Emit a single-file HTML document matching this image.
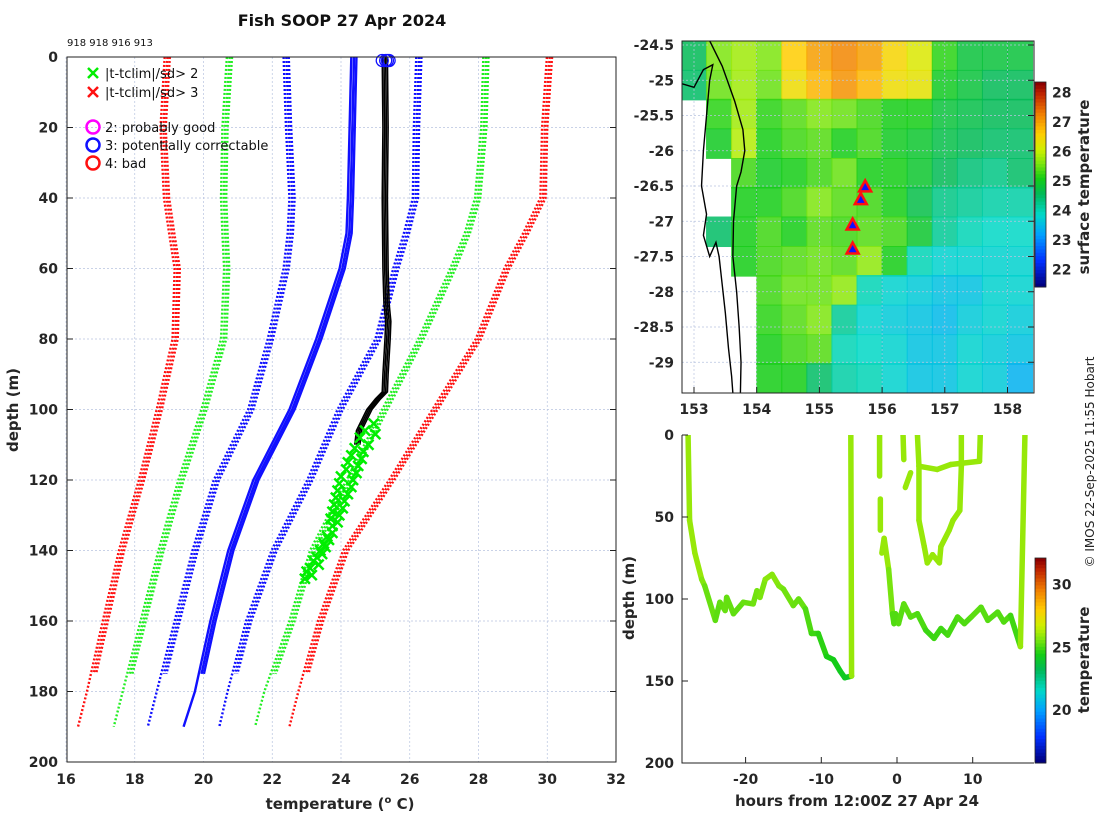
<!DOCTYPE html>
<html><head><meta charset="utf-8">
<style>
html,body{margin:0;padding:0;background:#fff;}
svg{display:block;font-family:"DejaVu Sans","Liberation Sans",sans-serif;}
.tk{font-weight:bold;font-size:14px;fill:#262626;}
.lb{font-weight:bold;font-size:15px;fill:#262626;}
</style></head>
<body>
<svg id="fig" width="1100" height="820" viewBox="0 0 1100 820" xmlns="http://www.w3.org/2000/svg">
<defs>
<clipPath id="clipL"><rect x="67" y="57" width="549" height="705"/></clipPath>
<clipPath id="clipM"><rect x="682" y="41" width="352" height="352"/></clipPath>
<clipPath id="clipB"><rect x="682" y="435" width="352" height="328"/></clipPath>
</defs>
<text x="342" y="26" text-anchor="middle" font-weight="bold" font-size="16" fill="#111">Fish SOOP 27 Apr 2024</text>
<text x="67" y="46" font-size="10" fill="#111">918 918 916 913</text>
<g id="left"></g>
<g id="map"></g>
<g id="bot"></g>
<text transform="translate(1094,462) rotate(-90)" text-anchor="middle" font-size="12" fill="#222">© IMOS 22-Sep-2025 11:55 Hobart</text>
</svg>
<script>
// ---------- data: left profile plot ----------
const climDepths = [0,20,40,50,60,80,100,120,140,160,180,190];
const climMean   = [24.30,24.25,24.2,24.16,23.96,23.28,22.50,21.45,20.72,20.20,19.75,19.42];
const climMinus1 = [22.33,22.40,22.50,22.45,22.33,21.87,21.30,20.30,19.68,19.16,18.64,18.38];
const climPlus1  = [26.19,26.12,26.09,25.83,25.52,25.00,23.90,23.02,21.98,21.24,20.70,20.46];
const climMinus2 = [20.68,20.55,20.51,20.55,20.60,20.51,19.94,19.27,18.69,18.17,17.65,17.39];
const climPlus2  = [28.14,28.08,27.90,27.60,27.18,26.25,25.20,24.16,23.10,22.50,21.77,21.50];
const climMinus3 = [18.87,18.75,18.85,19.00,19.16,19.10,18.64,18.12,17.54,17.07,16.61,16.35];
const climPlus3  = [29.99,29.85,29.80,29.30,28.75,27.92,26.66,25.40,24.06,23.33,22.76,22.50];
const obsDepth = [0,20,40,60,70,75,80,85,90,95,97,100,103,106,110];
const obsTemp  = [25.20,25.22,25.20,25.22,25.25,25.30,25.28,25.25,25.22,25.20,25.00,24.75,24.60,24.45,24.40];
const flagDepth = [104,106,107,108,110,111,112,113,114,115,116,117,118,119,120,121,122,123,124,125,126,127,128,129,130,131,132,133,135,136,137,138,139,140,141,142,143,144,145,146,147,148];
const flagTemp  = [24.95,24.7,25.0,24.55,24.8,24.4,24.65,24.3,24.6,24.2,24.5,24.15,24.45,24.0,24.35,23.95,24.3,23.9,24.2,23.85,24.1,23.8,24.05,23.75,23.95,23.7,23.9,23.75,23.75,23.6,23.65,23.5,23.55,23.4,23.45,23.3,23.2,23.35,23.1,23.0,23.15,22.95];
const surfQcTemp = [25.2,25.3,25.35,25.4];
const xTicks = [16,18,20,22,24,26,28,30,32];
const yTicks = [0,20,40,60,80,100,120,140,160,180,200];
// ---------- data: SST map ----------
const mapLons = [153.0,153.4,153.8,154.2,154.6,155.0,155.4,155.8,156.2,156.6,157.0,157.4,157.8,158.2];
const mapLats = [-24.65,-25.07,-25.48,-25.90,-26.32,-26.73,-27.15,-27.57,-27.98,-28.40,-28.82,-29.23];
const sst = [
 [24.6,25.6,25.8,25.6,26.6,27.0,27.2,27.0,26.5,26.2,25.2,24.8,24.8,24.8],
 [24.5,25.5,25.8,25.5,26.4,26.8,27.1,26.8,26.4,26.3,25.0,24.8,24.6,24.6],
 [null,25.2,25.8,25.2,25.4,25.6,25.5,25.3,25.1,25.1,24.8,24.7,24.6,24.6],
 [null,25.0,25.9,25.1,25.3,25.4,25.1,25.3,25.0,24.9,24.7,24.6,24.5,24.5],
 [null,null,25.3,25.0,25.1,25.3,25.5,25.1,25.1,24.9,24.6,24.4,24.3,24.5],
 [null,null,25.1,25.1,25.3,25.6,25.4,25.3,25.1,24.7,24.3,24.2,24.1,24.1],
 [null,24.5,25.1,25.3,25.1,25.4,25.3,25.4,25.3,24.9,24.2,24.0,23.9,23.9],
 [null,null,25.1,25.3,25.4,25.5,25.4,25.7,25.1,24.0,23.8,23.8,23.8,23.8],
 [null,null,null,25.3,25.5,25.5,25.7,24.0,23.8,23.7,23.6,23.6,23.8,23.8],
 [null,null,null,25.2,25.4,25.6,24.2,23.8,23.7,23.6,23.5,23.7,23.8,23.7],
 [null,null,null,25.1,25.3,25.4,24.0,23.9,23.8,23.6,23.6,23.8,23.7,23.6],
 [null,null,null,25.1,25.1,24.5,24.1,24.0,23.8,23.6,23.6,23.8,23.7,23.4]];
const shelfLon = [153.25,153.45,153.65,153.78,153.81,153.75,153.68,153.63,153.62,153.68,153.72,153.75,153.74];
const shelfLat = [-24.44,-24.8,-25.3,-25.7,-26.0,-26.3,-26.5,-27.0,-27.5,-28.0,-28.5,-29.0,-29.44];
const coastLon = [152.81,153.0,153.15,153.3,153.25,153.2,153.15,153.12,153.2,153.15,153.25,153.35,153.4,153.45,153.5,153.55,153.6,153.62];
const coastLat = [-25.05,-25.1,-24.85,-24.78,-25.0,-25.5,-26.0,-26.5,-26.9,-27.2,-27.5,-27.3,-27.5,-27.9,-28.3,-28.8,-29.2,-29.44];
const shipLon = [155.73,155.66,155.53,155.53];
const shipLat = [-26.52,-26.70,-27.06,-27.40];
const mapXTicks = [153,154,155,156,157,158];
const mapYTicks = [-24.5,-25,-25.5,-26,-26.5,-27,-27.5,-28,-28.5,-29];
const sstCbTicks = [22,23,24,25,26,27,28];
// ---------- data: time-depth traces ----------
const trHours = [
 [-27.6,-27.4,-26.7,-25.8,-25.4,-24.0,-23.4,-22.7,-22.5,-21.6,-20.3,-19.0,-18.5,-18.1,-17.4,-16.5,-15.6,-15.0,-13.7,-13.0,-12.1,-11.3,-10.4,-9.3,-8.4,-7.5,-6.9,-6.0,-6.1],
 [-2.0,-1.7,-1.1,-0.6,-0.4,-0.2,0.2,0.9,1.8,2.7,3.8,4.9,5.8,6.7,8.0,8.9,9.8,11.1,12.0,13.3,14.1,15.0,16.3,16.9],
 [2.7,2.9,2.9,3.6,4.0,4.7,5.6,5.8,6.9,7.4,8.3,8.5,8.5],
 [2.9,5.3,7.1,10.9,11.0],
 [0.8,0.9],[1.8,1.1],[-2.3,-2.3],[-2.2,-2.2]];
const trDepths = [
 [0,52,72,88,92,113,102,107,99,109,102,103,95,99,88,85,92,94,104,100,106,121,121,135,137,144,148,147,0],
 [72,63,82,109,115,109,115,103,111,109,119,124,118,122,111,115,111,105,113,108,114,110,129,0],
 [0,19,52,68,78,73,78,68,58,52,46,19,0],
 [19,21,18,16,0],
 [0,15],[23,32],[0,25],[39,58]];
const bXTicks = [-20,-10,0,10];
const bYTicks = [0,50,100,150,200];
const tCbTicks = [20,25,30];

// ---------- helpers ----------
const NS='http://www.w3.org/2000/svg';
function mk(tag, attrs, parent){const e=document.createElementNS(NS,tag);for(const k in attrs)e.setAttribute(k,attrs[k]);parent.appendChild(e);return e;}
const stops=[[0,[0,0,128]],[0.12,[0,48,255]],[0.25,[0,160,255]],[0.35,[0,216,200]],[0.45,[0,185,90]],[0.53,[20,205,20]],[0.6,[120,228,15]],[0.67,[205,240,0]],[0.75,[255,205,0]],[0.85,[240,125,0]],[0.95,[190,35,0]],[1,[140,0,0]]];
function cmap(t){t=Math.max(0,Math.min(1,t));for(let i=1;i<stops.length;i++){if(t<=stops[i][0]){const a=stops[i-1],b=stops[i],f=(t-a[0])/(b[0]-a[0]);const c=a[1].map((v,j)=>Math.round(v+(b[1][j]-v)*f));return 'rgb('+c.join(',')+')';}}return 'rgb(140,0,0)';}

// ---------- left plot ----------
const L=document.getElementById('left');
const lx=T=>66+(T-16)*34.375, ly=d=>57+d*3.525;
xTicks.forEach(t=>{const g=mk('line',{x1:lx(t),x2:lx(t),y1:57,y2:762,stroke:'#b8c4e0','stroke-width':0.7,'stroke-dasharray':'2,2'},L);


const tx=mk('text',{x:lx(t),y:784,'text-anchor':'middle',class:'tk'},L);tx.textContent=t;

});
yTicks.forEach(t=>{const g=mk('line',{x1:67,x2:616,y1:ly(t),y2:ly(t),stroke:'#b8c4e0','stroke-width':0.7,'stroke-dasharray':'2,2'},L);


mk('line',{x1:67,x2:73,y1:ly(t),y2:ly(t),stroke:'#222'},L);mk('line',{x1:610,x2:616,y1:ly(t),y2:ly(t),stroke:'#222'},L);
const tx=mk('text',{x:58,y:ly(t)+5,'text-anchor':'end',class:'tk'},L);tx.textContent=t;

});
const LP=mk('g',{'clip-path':'url(#clipL)'},L);
function profPts(temps,off,maxD){const p=[];for(let i=0;i<climDepths.length;i++){const d=climDepths[i];if(d<=maxD)p.push([lx(temps[i]+off),ly(d)]);else{const d0=climDepths[i-1],f=(maxD-d0)/(d-d0);p.push([lx(temps[i-1]+(temps[i]-temps[i-1])*f+off),ly(maxD)]);break;}}return p.map(q=>q.join(',')).join(' ');}
const groups=[[climMinus3,'#ff1010',true],[climPlus3,'#ff1010',true],[climMinus2,'#22ee22',true],[climPlus2,'#22ee22',true],[climMinus1,'#1010ff',true],[climPlus1,'#1010ff',true],[climMean,'#1010ff',false]];
const copies=[[0,190],[0.08,175],[0.15,175]];
groups.forEach(g=>{copies.forEach(c=>{const e=mk('polyline',{points:profPts(g[0],c[0],c[1]),fill:'none',stroke:g[1],'stroke-width':2.4,'stroke-dasharray':g[2]?'2,2':'none'},LP);

});});
[0,0.05,0.1,0.15].forEach(o=>{const e=mk('polyline',{points:obsDepth.map((d,i)=>lx(obsTemp[i]+o)+','+ly(d)).join(' '),fill:'none',stroke:'#000','stroke-width':1.6},LP);

});
flagDepth.forEach((d,i)=>{const x=lx(flagTemp[i]),y=ly(d),s=5;const e=mk('path',{d:`M${x-s},${y-s}L${x+s},${y+s}M${x-s},${y+s}L${x+s},${y-s}`,stroke:'#00ee00','stroke-width':2.5},LP);

});
surfQcTemp.forEach(t=>{const e=mk('circle',{cx:lx(t),cy:ly(1),r:6,fill:'none',stroke:'#1010ff','stroke-width':1.3},L);

});
{const e=mk('rect',{x:67,y:57,width:549,height:705,fill:'none',stroke:'#222','stroke-width':1},L);

}
// legend
const lg=mk('g',{},L);


[['x','#00ee00',73,'|t-tclim|/sd> 2'],['x','#ff1010',92,'|t-tclim|/sd> 3'],['o','#ff00ff',127,'2: probably good'],['o','#1010ff',145,'3: potentially correctable'],['o','#ff1010',163,'4: bad']].forEach(r=>{
const x=93,y=r[2];if(r[0]==='x')mk('path',{d:`M${x-5},${y-5}L${x+5},${y+5}M${x-5},${y+5}L${x+5},${y-5}`,stroke:r[1],'stroke-width':2.5},lg);else mk('circle',{cx:x,cy:y,r:6.5,fill:'none',stroke:r[1],'stroke-width':2.5},lg);
const t=mk('text',{x:105,y:y+5,'font-size':13,fill:'#111'},lg);t.textContent=r[3];

});
{const t=mk('text',{transform:'translate(18,410) rotate(-90)','text-anchor':'middle',class:'lb'},L);t.textContent='depth (m)';


const t2=mk('text',{x:340,y:809,'text-anchor':'middle',class:'lb'},L);t2.innerHTML='temperature (<tspan font-size="10" dy="-6">o</tspan><tspan dy="6"> C)</tspan>';

}

// ---------- map ----------
const M=document.getElementById('map');
const mx=lon=>694+(lon-153)*62.7, my=lat=>45+(-24.5-lat)*70.5;
const MP=mk('g',{'clip-path':'url(#clipM)'},M);
sst.forEach((row,r)=>row.forEach((v,c)=>{if(v===null)return;const e=mk('rect',{x:mx(mapLons[c]-0.2)-0.5,y:my(mapLats[r]+0.21)-0.5,width:26.1,height:30.5,fill:cmap((v-21.5)/6.8),opacity:0.85},MP);

}));
mapXTicks.forEach(t=>{const e=mk('line',{x1:mx(t),x2:mx(t),y1:41,y2:393,stroke:'#b8c4e0','stroke-width':0.7,'stroke-dasharray':'2,2'},MP);


mk('line',{x1:mx(t),x2:mx(t),y1:393,y2:387,stroke:'#222'},M);
const tx=mk('text',{x:mx(t),y:414,'text-anchor':'middle',class:'tk'},M);tx.textContent=t;

});
mapYTicks.forEach(t=>{const e=mk('line',{x1:682,x2:1034,y1:my(t),y2:my(t),stroke:'#b8c4e0','stroke-width':0.7,'stroke-dasharray':'2,2'},MP);


mk('line',{x1:1034,x2:1028,y1:my(t),y2:my(t),stroke:'#222'},M);
const tx=mk('text',{x:674,y:my(t)+5,'text-anchor':'end',class:'tk'},M);tx.textContent=t;

});
{const e=mk('polyline',{points:shelfLon.map((l,i)=>mx(l)+','+my(shelfLat[i])).join(' '),fill:'none',stroke:'#000','stroke-width':1.4},MP);


const c=mk('polyline',{points:coastLon.map((l,i)=>mx(l)+','+my(coastLat[i])).join(' '),fill:'none',stroke:'#000','stroke-width':1.4},MP);

}
shipLon.forEach((l,i)=>{const x=mx(l),y=my(shipLat[i]);const e=mk('path',{d:`M${x},${y-7}L${x+6},${y+4}L${x-6},${y+4}Z`,fill:'#1010ff',stroke:'#ff1010','stroke-width':2.5},MP);

});
{const e=mk('rect',{x:682,y:41,width:352,height:352,fill:'none',stroke:'#222'},M);

}
// sst colorbar
const cbTop=82,cbBot=287,cbMin=21.4,cbMax=28.35;
for(let i=0;i<60;i++){const e=mk('rect',{x:1035,y:cbTop+(cbBot-cbTop)*i/60,width:11,height:(cbBot-cbTop)/60+0.5,fill:cmap(1-i/59)},M);

}
mk('rect',{x:1035,y:cbTop,width:11,height:cbBot-cbTop,fill:'none',stroke:'#222','stroke-width':0.8},M);
sstCbTicks.forEach(t=>{const y=cbBot-(t-cbMin)/(cbMax-cbMin)*(cbBot-cbTop);const tx=mk('text',{x:1052,y:y+5,class:'tk'},M);tx.textContent=t;

});
{const t=mk('text',{transform:'translate(1089,187) rotate(-90)','text-anchor':'middle',class:'lb','font-size':14},M);t.textContent='surface temperature';

}

// ---------- bottom-right time-depth ----------
const B=document.getElementById('bot');
const bx=h=>897+h*7.57, by=d=>435+d*1.64;
const BP=mk('g',{'clip-path':'url(#clipB)'},B);
const tMin=15.8,tMax=32.1;
function depthTemp(d){return 26.0-Math.max(0,d-80)*0.027;}
trHours.forEach((hs,s)=>{for(let i=1;i<hs.length;i++){const d0=trDepths[s][i-1],d1=trDepths[s][i];const e=mk('line',{x1:bx(hs[i-1]),y1:by(d0),x2:bx(hs[i]),y2:by(d1),stroke:cmap((depthTemp((d0+d1)/2)-tMin)/(tMax-tMin)),'stroke-width':5.5,'stroke-linecap':'round'},BP);

}});
bXTicks.forEach(t=>{mk('line',{x1:bx(t),x2:bx(t),y1:763,y2:757,stroke:'#222'},B);
const tx=mk('text',{x:bx(t),y:784,'text-anchor':'middle',class:'tk'},B);tx.textContent=t;

});
bYTicks.forEach(t=>{mk('line',{x1:682,x2:688,y1:by(t),y2:by(t),stroke:'#222'},B);
const tx=mk('text',{x:674,y:by(t)+5,'text-anchor':'end',class:'tk'},B);tx.textContent=t;

});
{const e=mk('path',{d:'M682,435V763H1034',fill:'none',stroke:'#222'},B);


const t=mk('text',{transform:'translate(634,598) rotate(-90)','text-anchor':'middle',class:'lb'},B);t.textContent='depth (m)';


const t2=mk('text',{x:857,y:806,'text-anchor':'middle',class:'lb'},B);t2.textContent='hours from 12:00Z 27 Apr 24';

}
const c2Top=558,c2Bot=763;
for(let i=0;i<60;i++){const e=mk('rect',{x:1035,y:c2Top+(c2Bot-c2Top)*i/60,width:11,height:(c2Bot-c2Top)/60+0.5,fill:cmap(1-i/59)},B);

}
mk('rect',{x:1035,y:c2Top,width:11,height:c2Bot-c2Top,fill:'none',stroke:'#222','stroke-width':0.8},B);
tCbTicks.forEach(t=>{const y=c2Bot-(t-tMin)/(tMax-tMin)*(c2Bot-c2Top);const tx=mk('text',{x:1052,y:y+5,class:'tk'},B);tx.textContent=t;

});
{const t=mk('text',{transform:'translate(1089,660) rotate(-90)','text-anchor':'middle',class:'lb','font-size':14},B);t.textContent='temperature';

}
</script>
</body></html>
